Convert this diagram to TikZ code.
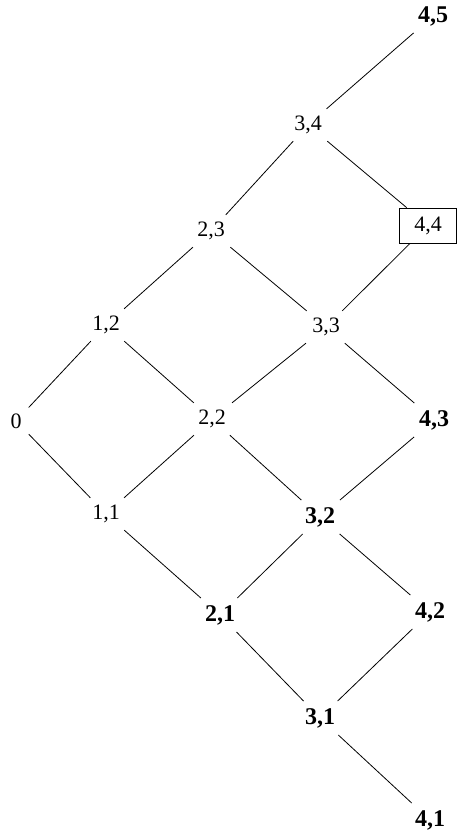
\documentclass[tikz,border=0pt]{standalone}
\usepackage{fontspec}
\setmainfont{Liberation Serif}
\begin{document}
\begin{tikzpicture}[x=1pt,y=-1pt,
  lbl/.style={inner sep=7pt,font=\fontsize{22}{24}\selectfont},
  blbl/.style={inner sep=7pt,font=\fontsize{24}{26}\selectfont\bfseries},
  boxlbl/.style={draw,line width=0.8pt,minimum width=57pt,minimum height=35pt,inner sep=2pt,font=\fontsize{22}{24}\selectfont},
  edge/.style={line width=0.8pt}]
\useasboundingbox (0,0) rectangle (459,834);
\node[lbl] (n0) at (16,421) {0};
\node[lbl] (n11) at (106,514) {1,1};
\node[lbl] (n12) at (106,325) {1,2};
\node[blbl] (n21) at (220,615) {2,1};
\node[lbl] (n22) at (212,419) {2,2};
\node[lbl] (n23) at (211,231) {2,3};
\node[blbl] (n31) at (320,718) {3,1};
\node[blbl] (n32) at (320,517) {3,2};
\node[lbl] (n33) at (326,327) {3,3};
\node[lbl] (n34) at (308,125) {3,4};
\node[blbl] (n41) at (430,820) {4,1};
\node[blbl] (n42) at (430,612) {4,2};
\node[blbl] (n43) at (434,420) {4,3};
\node[boxlbl] (n44) at (428,225.5) {4,4};
\node[blbl] (n45) at (433,16) {4,5};
\draw[edge] (n0) -- (n12);
\draw[edge] (n0) -- (n11);
\draw[edge] (n12) -- (n23);
\draw[edge] (n12) -- (n22);
\draw[edge] (n11) -- (n22);
\draw[edge] (n11) -- (n21);
\draw[edge] (n23) -- (n34);
\draw[edge] (n23) -- (n33);
\draw[edge] (n22) -- (n33);
\draw[edge] (n22) -- (n32);
\draw[edge] (n21) -- (n32);
\draw[edge] (n21) -- (n31);
\draw[edge] (n34) -- (n45);
\draw[edge] (n34) -- (n44);
\draw[edge] (n33) -- (n44);
\draw[edge] (n33) -- (n43);
\draw[edge] (n32) -- (n43);
\draw[edge] (n32) -- (n42);
\draw[edge] (n31) -- (n42);
\draw[edge] (n31) -- (n41);
\end{tikzpicture}
\end{document}
